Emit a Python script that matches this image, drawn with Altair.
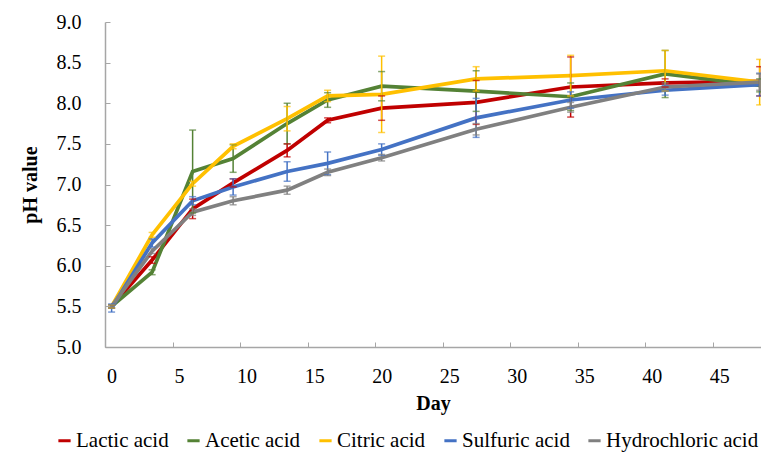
import altair as alt
import pandas as pd

days = [0, 3, 6, 9, 13, 16, 20, 27, 34, 41, 48]
series = ["Lactic acid", "Acetic acid", "Citric acid", "Sulfuric acid", "Hydrochloric acid"]
colors = ["#C00000", "#548235", "#FFC000", "#4472C4", "#808080"]

lactic = [5.50, 6.07, 6.70, 7.02, 7.42, 7.79, 7.94, 8.01, 8.20, 8.25, 8.27]
lactic_sd = [0.02, 0.04, 0.12, 0.05, 0.08, 0.03, 0.15, 0.27, 0.37, 0.05, 0.18]
acetic = [5.50, 5.92, 7.16, 7.32, 7.75, 8.04, 8.21, 8.15, 8.08, 8.36, 8.22]
acetic_sd = [0.02, 0.03, 0.51, 0.17, 0.25, 0.09, 0.18, 0.25, 0.17, 0.29, 0.08]
citric = [5.50, 6.38, 7.01, 7.47, 7.81, 8.09, 8.11, 8.30, 8.34, 8.40, 8.26]
citric_sd = [0.02, 0.03, 0.03, 0.03, 0.15, 0.07, 0.47, 0.15, 0.25, 0.25, 0.28]
sulfuric = [5.48, 6.28, 6.80, 6.97, 7.16, 7.26, 7.43, 7.82, 8.04, 8.16, 8.23]
sulfuric_sd = [0.05, 0.05, 0.05, 0.10, 0.12, 0.14, 0.07, 0.24, 0.10, 0.06, 0.14]
hydrochloric = [5.50, 6.18, 6.66, 6.80, 6.93, 7.15, 7.33, 7.68, 7.95, 8.20, 8.26]
hydrochloric_sd = [0.02, 0.03, 0.04, 0.05, 0.05, 0.04, 0.04, 0.07, 0.06, 0.05, 0.10]

x_ticks = [0, 5, 10, 15, 20, 25, 30, 35, 40, 45]
y_ticks = [5.0, 5.5, 6.0, 6.5, 7.0, 7.5, 8.0, 8.5, 9.0]

rows = []
for k, (name, vals, sds) in enumerate(zip(
        series,
        [lactic, acetic, citric, sulfuric, hydrochloric],
        [lactic_sd, acetic_sd, citric_sd, sulfuric_sd, hydrochloric_sd])):
    for d, v, s in zip(days, vals, sds):
        rows.append({"day": d, "acid": name, "ph": v, "lo": v - s, "hi": v + s, "k": k})
df = pd.DataFrame(rows)

FONT = "Liberation Serif"

color = alt.Color(
    "acid:N",
    scale=alt.Scale(domain=series, range=colors),
    sort=series,
    legend=alt.Legend(
        title=None, orient="none", direction="horizontal",
        legendX=-51, legendY=408,
        symbolType="stroke", symbolSize=150, symbolStrokeWidth=3,
        labelFont=FONT, labelFontSize=21, labelColor="#000000",
        labelOffset=1, columnPadding=12, padding=0,
    ),
)

xs = alt.X(
    "day:Q",
    scale=alt.Scale(domain=[-0.49, 48.1], nice=False, zero=False),
    axis=alt.Axis(
        values=x_ticks, title="Day", format="d",
        tickOffset=-6.6, labelOffset=6.6, labelFont=FONT,
        tickSize={"expr": "-5"}, labelPadding=24, titlePadding=7,
    ),
)
ys = alt.Y(
    "ph:Q",
    scale=alt.Scale(domain=[5, 9], nice=False, zero=False),
    axis=alt.Axis(
        values=y_ticks, title="pH value", format=".1f", labelFont=FONT,
        tickSize={"expr": "-5"}, labelPadding=29, titlePadding=16,
    ),
)

base = alt.Chart(df)
err_color = alt.Color("acid:N", scale=alt.Scale(domain=series, range=colors), legend=None)

lines = base.mark_line(strokeWidth=3.7).encode(
    x=xs, y=ys, color=color, order="day:Q"
)
bars = base.mark_rule(strokeWidth=1.5).encode(
    x="day:Q", y="lo:Q", y2="hi:Q", color=err_color
)
cap_lo = base.mark_tick(orient="horizontal", size=7, thickness=1.5).encode(
    x="day:Q", y="lo:Q", color=err_color
)
cap_hi = base.mark_tick(orient="horizontal", size=7, thickness=1.5).encode(
    x="day:Q", y="hi:Q", color=err_color
)

chart = alt.layer(lines, bars, cap_lo, cap_hi).properties(
    width=656, height=325,
    autosize=alt.AutoSizeParams(type="none"),
    padding={"left": 97, "top": 14, "right": 0, "bottom": 108},
    background="white",
).configure(font=FONT).configure_view(stroke=None).configure_axis(
    grid=False,
    domainColor="#A6A6A6", domainWidth=1.5,
    tickColor="#A6A6A6", tickWidth=1,
    labelFont=FONT, labelFontSize=20, labelColor="#000000",
    titleFont=FONT, titleFontSize=20, titleFontWeight="bold", titleColor="#000000",
).configure_legend(labelFont=FONT)

chart.save("out.html", embed_options={"renderer": "svg", "actions": False})
